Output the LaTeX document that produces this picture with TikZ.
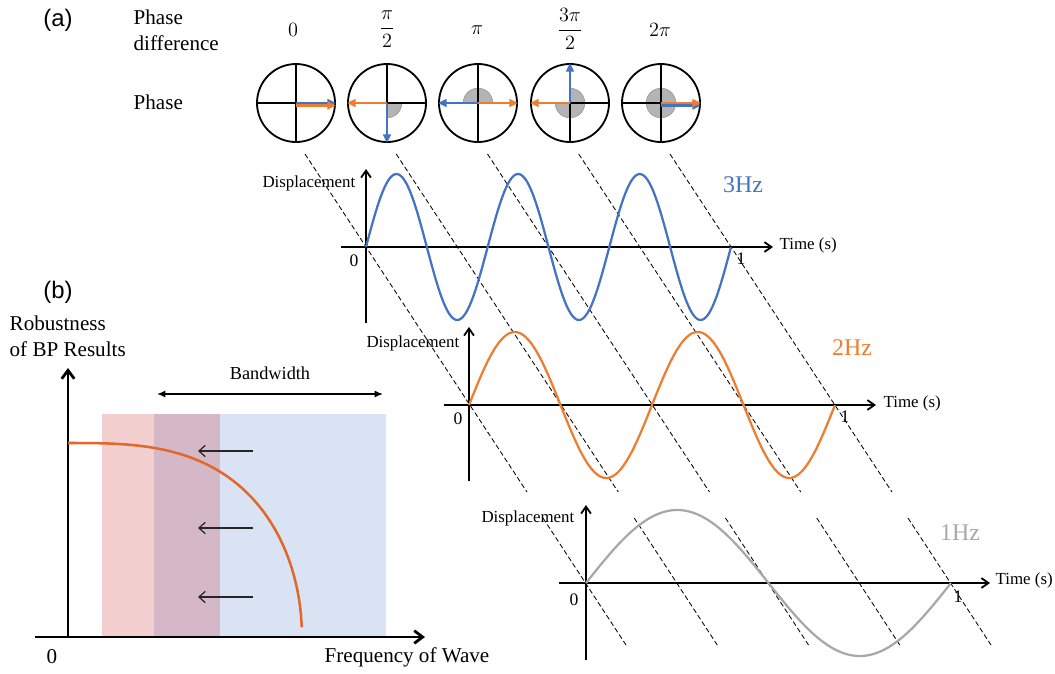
\documentclass[tikz,border=0pt]{standalone}
\usepackage{amsmath}
\usepackage{fontspec}
\setmainfont{Liberation Serif}
\newfontfamily\panelfont{Liberation Sans}
\usepackage{tikz}
\usetikzlibrary{arrows.meta, positioning, calc}
\definecolor{wblue}{RGB}{68,114,196}
\definecolor{worange}{RGB}{237,125,49}
\definecolor{wgray}{RGB}{168,168,168}
\definecolor{curveorg}{RGB}{226,104,42}
\definecolor{bandpink}{RGB}{243,207,208}
\definecolor{bandmix}{RGB}{213,184,199}
\definecolor{bandblue}{RGB}{218,227,243}
\definecolor{sectgray}{RGB}{180,180,180}
\tikzset{
  phasecirc/.style={circle, draw=black, line width=1.3pt,
    minimum size=1.95cm, inner sep=0pt},
  cross/.style={line width=1.1pt, color=black},
  sector/.style={fill=sectgray, draw=gray!85, line width=0.4pt},
  vecb/.style={-{Triangle[length=6pt,width=5.5pt]}, line width=1.8pt, color=wblue},
  veco/.style={-{Triangle[length=6pt,width=5.5pt]}, line width=1.8pt, color=worange},
  axis/.style={-{Straight Barb[length=5pt,width=7pt]}, line width=1.3pt},
  bigaxis/.style={-{Straight Barb[length=6pt,width=9pt]}, line width=2pt},
  guide/.style={dash pattern=on 3.5pt off 2pt, line width=0.6pt},
  wave/.style={line width=1.6pt},
  smalltxt/.style={font=\fontsize{12.5}{14}\selectfont, inner sep=1pt},
  timetxt/.style={font=\fontsize{12}{14}\selectfont, inner sep=1pt},
  disptxt/.style={font=\fontsize{12}{14}\selectfont, inner sep=1pt},
  bigtxt/.style={font=\fontsize{15}{18.5}\selectfont, inner sep=1pt},
  mathtxt/.style={font=\fontsize{15}{17}\selectfont, inner sep=1pt},
  hztxt/.style={font=\fontsize{17}{19}\selectfont, inner sep=0pt},
  tagtxt/.style={font=\panelfont\fontsize{17}{19}\selectfont, inner sep=0pt},
  shiftarrow/.style={-{Straight Barb[length=4.5pt,width=8pt]}, line width=0.9pt, color=black!85}
}

\begin{document}
\begin{tikzpicture}[x=0.025cm, y=-0.025cm]
  \useasboundingbox (0,0) rectangle (1055,673);

  % Panel (a): phase labels
  \node[tagtxt] (taga) at (58,20) {(a)};
  \node[bigtxt, anchor=west, align=left] (phdiff) at (132,30) {Phase\\difference};
  \node[bigtxt, anchor=west] (phlbl) at (132,102) {Phase};

  \node[mathtxt] (pd0) at (293,30) {$0$};
  \node[mathtxt] (pd1) at (387,29) {$\dfrac{\pi}{2}$};
  \node[mathtxt] (pd2) at (477,30) {$\pi$};
  \node[mathtxt] (pd3) at (570,29) {$\dfrac{3\pi}{2}$};
  \node[mathtxt] (pd4) at (660,30) {$2\pi$};

  % Phase circles
  \node[phasecirc] (c0) at (296,103) {};
  \node[phasecirc] (c1) at (387,103) {};
  \node[phasecirc] (c2) at (478,103) {};
  \node[phasecirc] (c3) at (570,103) {};
  \node[phasecirc] (c4) at (661,103) {};

  \filldraw[sector] (c1.center) -- ++(0:0.37cm) arc[start angle=0, end angle=-90, radius=0.37cm] -- cycle;
  \filldraw[sector] (c2.center) -- ++(0:0.37cm) arc[start angle=0, end angle=180, radius=0.37cm] -- cycle;
  \filldraw[sector] (c3.center) -- ++(90:0.37cm) arc[start angle=90, end angle=-180, radius=0.37cm] -- cycle;
  \filldraw[sector] (c4.center) circle[radius=0.37cm];

  \foreach \c in {c0,c1,c2,c3,c4}
    \draw[cross] (\c.north) -- (\c.south) (\c.west) -- (\c.east);

  \draw[vecb] (c0.center) -- (c0.east);
  \draw[veco] ([yshift=-1.8pt]c0.center) -- ([yshift=-1.8pt]c0.east);
  \draw[veco] (c1.center) -- (c1.west);
  \draw[vecb] (c1.center) -- (c1.south);
  \draw[vecb] (c2.center) -- (c2.west);
  \draw[veco] (c2.center) -- (c2.east);
  \draw[vecb] (c3.center) -- (c3.north);
  \draw[veco] (c3.center) -- (c3.west);
  \draw[vecb] ([yshift=-1.8pt]c4.center) -- ([yshift=-1.8pt]c4.east);
  \draw[veco] (c4.center) -- (c4.east);

  % Dashed phase guides
  \foreach \k in {0,...,4} {
    \draw[guide] ({305+91.25*\k},154) -- ({527+91.25*\k},492);
    \draw[guide] ({543+91.25*\k},518) -- ({626+91.25*\k},645);
  }

  % 3 Hz wave
  \begin{scope}[shift={(366,247)}]
    \draw[axis] (-25,0) -- (407,0);
    \draw[axis] (0,76) -- (0,-78);
    \draw[wave, wblue] plot[domain=0:1, samples=181] ({365*\x}, {-73*sin(1080*\x)});
    \node[timetxt, anchor=west] (t3) at (412,-2) {Time (s)};
    \node[disptxt, anchor=east] (d3) at (-9,-64) {Displacement};
    \node[smalltxt] (z3) at (-12,14) {0};
    \node[smalltxt] (e3) at (375,12) {1};
    \node[hztxt, text=wblue] (f3) at (377,-62) {3Hz};
  \end{scope}

  % 2 Hz wave
  \begin{scope}[shift={(469,405)}]
    \draw[axis] (-25,0) -- (407,0);
    \draw[axis] (0,76) -- (0,-78);
    \draw[wave, worange] plot[domain=0:1, samples=181] ({366*\x}, {-73*sin(720*\x)});
    \node[timetxt, anchor=west] (t2) at (413,-2) {Time (s)};
    \node[disptxt, anchor=east] (d2) at (-8,-62) {Displacement};
    \node[smalltxt] (z2) at (-11,14) {0};
    \node[smalltxt] (e2) at (376,12) {1};
    \node[hztxt, text=worange] (f2) at (383,-57) {2Hz};
  \end{scope}

  % 1 Hz wave
  \begin{scope}[shift={(586,583)}]
    \draw[axis] (-27,0) -- (404,0);
    \draw[axis] (0,77) -- (0,-78);
    \draw[wave, wgray] plot[domain=0:1, samples=181] ({365*\x}, {-73*sin(360*\x)});
    \node[timetxt, anchor=west] (t1) at (408,-3) {Time (s)};
    \node[disptxt, anchor=east] (d1) at (-10,-65) {Displacement};
    \node[smalltxt] (z1) at (-12,17) {0};
    \node[smalltxt] (e1) at (372,14) {1};
    \node[hztxt, text=wgray] (f1) at (374,-50) {1Hz};
  \end{scope}

  % Panel (b): robustness vs frequency
  \node[tagtxt] (tagb) at (58,292) {(b)};
  \node[bigtxt, anchor=west, align=left] (rob) at (8,336) {Robustness\\of BP Results};

  \fill[bandpink] (102,414) rectangle (154,637);
  \fill[bandmix] (154,414) rectangle (220,637);
  \fill[bandblue] (220,414) rectangle (386,637);

  \coordinate (borig) at (68,637);
  \coordinate (bxend) at (425,637);
  \coordinate (byend) at (68,368);
  \draw[bigaxis] (35,637) -- (bxend);
  \draw[bigaxis] (borig) -- (byend);
  \draw[line width=1.8pt, curveorg] plot[domain=0:1, samples=300]
    ({68+234*\x}, {637-194*sqrt(max(0,1-\x*\x*\x))});

  \coordinate (bwl) at (157,394);
  \coordinate (bwr) at (383,394);
  \draw[{Latex[length=6pt,width=5pt]}-{Latex[length=6pt,width=5pt]}, line width=1pt] (bwl) -- (bwr);
  \node[font=\fontsize{13}{15}\selectfont] (bw) at (270,373) {Bandwidth};

  \foreach \y in {451,528,597}
    \draw[shiftarrow] (253,\y) -- (198,\y);

  \node[bigtxt] (b0) at (52,657) {0};
  \node[bigtxt, anchor=west] (freq) at (323,657) {Frequency of Wave};
\end{tikzpicture}
\end{document}
